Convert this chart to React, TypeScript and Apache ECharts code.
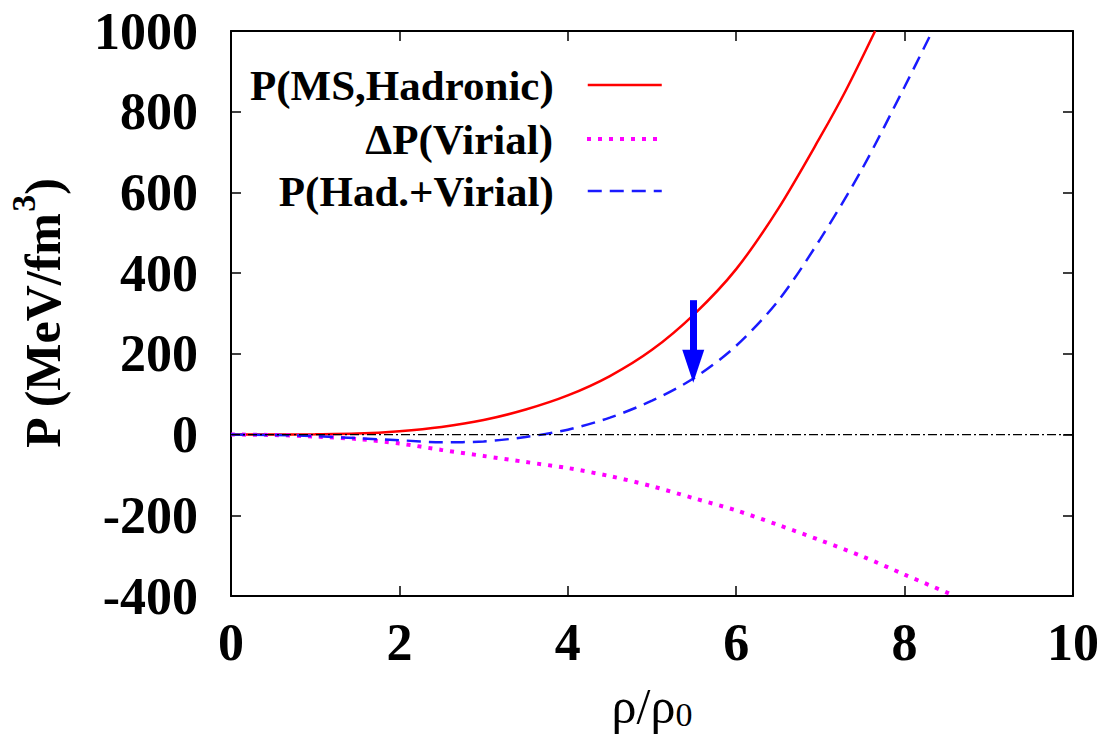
import { useEffect, useRef } from 'react';
import * as echarts from 'echarts';

// ---- data ----
const rhoHad = [0, 0.5, 1.0, 1.5, 2.0, 2.5, 3.0, 3.5, 4.0, 4.5, 5.0, 5.5, 6.0, 6.5, 7.0, 7.3, 7.65];
const pHad = [0, 0.2, 0.8, 2.5, 8.5, 19, 36, 62, 97, 145, 210, 298, 410, 560, 738, 852, 1000];

const rhoVir = [0, 0.5, 1.0, 1.5, 2.0, 2.5, 3.0, 3.5, 4.0, 4.5, 5.0, 5.5, 6.0, 6.5, 7.0, 7.5, 8.0, 8.6];
const dPVir = [0, -1, -5, -11, -22, -38, -53, -68, -83, -103, -128, -158, -188, -224, -262, -302, -347, -400];

const rhoTot = [0, 0.5, 1.0, 1.5, 2.0, 2.5, 3.0, 3.5, 4.0, 4.5, 5.0, 5.5, 6.0, 6.5, 7.0, 7.5, 8.0, 8.33];
const pTot = [0, -1, -4, -9, -14, -19, -17, -6, 12, 42, 84, 140, 220, 332, 485, 660, 862, 1000];

const zeroX = [0, 10];
const zeroY = [0, 0];

const arrowX = [5.49, 5.49];
const arrowY = [333, 169];

const seriesNames = ['P(MS,Hadronic)', 'ΔP(Virial)', 'P(Had.+Virial)'];
const seriesWidths = [2.5, 4, 2.5];

const FONT = 'Liberation Serif, Times New Roman, Times, serif';

const zip = (xs: number[], ys: number[]) => xs.map((x, i) => [x, ys[i]]);

const frameLine = { show: true, onZero: false, lineStyle: { color: '#000', width: 2 } };
const tick = { show: true, inside: true, length: 10, lineStyle: { color: '#000', width: 1.5 } };

const legendRowsY = [85, 139, 191];

export default function App() {
  const ref = useRef<HTMLDivElement>(null);
  useEffect(() => {
    const chart = echarts.init(ref.current!, null, { renderer: 'svg' });
    const legends = seriesNames.map((n, i) => ({
      data: [n],
      orient: 'horizontal',
      align: 'right',
      right: 446,
      top: legendRowsY[i] - 22,
      padding: 0,
      itemWidth: 74,
      itemHeight: 14,
      selectedMode: false,
      itemStyle: { opacity: 0 },
      lineStyle: { width: seriesWidths[i] },
      textStyle: {
        fontFamily: FONT,
        fontWeight: 'bold',
        fontSize: 43,
        lineHeight: 44,
        color: '#000',
        padding: [0, 29, 0, 0],
      },
    }));
    const label = (v: number) => String(v);
    chart.setOption({
      animation: false,
      backgroundColor: '#fff',
      grid: { left: 231, right: 36, top: 31, bottom: 144, containLabel: false, outerBoundsMode: 'none' },
      legend: legends,
      xAxis: [
        {
          type: 'value', min: 0, max: 10, interval: 2, position: 'bottom',
          axisLine: frameLine, axisTick: tick, splitLine: { show: false },
          axisLabel: { fontFamily: FONT, fontWeight: 'bold', fontSize: 52, color: '#000', margin: 20, formatter: label },
          name: '{a|ρ/ρ}{sub|0}', nameLocation: 'middle', nameGap: 65,
          nameTextStyle: {
            rich: {
              a: { fontFamily: FONT, fontSize: 50, color: '#000', lineHeight: 70, verticalAlign: 'bottom' },
              sub: { fontFamily: FONT, fontSize: 34, color: '#000', lineHeight: 34, verticalAlign: 'bottom' },
            },
          },
        },
        {
          type: 'value', min: 0, max: 10, interval: 2, position: 'top',
          axisLine: frameLine, axisTick: tick, splitLine: { show: false }, axisLabel: { show: false },
        },
      ],
      yAxis: [
        {
          type: 'value', min: -400, max: 1000, interval: 200, position: 'left',
          axisLine: frameLine, axisTick: tick, splitLine: { show: false },
          axisLabel: { fontFamily: FONT, fontWeight: 'bold', fontSize: 52, color: '#000', margin: 33, formatter: label },
          name: '{a|P (MeV/fm}{sup|3}{a|)}', nameLocation: 'middle', nameGap: 145, nameRotate: 90,
          nameTextStyle: {
            rich: {
              a: { fontFamily: FONT, fontWeight: 'bold', fontSize: 50, color: '#000', lineHeight: 80, verticalAlign: 'top', padding: [12, 0, 0, 0] },
              sup: { fontFamily: FONT, fontWeight: 'bold', fontSize: 34, color: '#000', lineHeight: 34, verticalAlign: 'top' },
            },
          },
        },
        {
          type: 'value', min: -400, max: 1000, interval: 200, position: 'right',
          axisLine: frameLine, axisTick: tick, splitLine: { show: false }, axisLabel: { show: false },
        },
      ],
      series: [
        {
          name: seriesNames[0], type: 'line', data: zip(rhoHad, pHad),
          symbol: 'none', smooth: 0.3, clip: true, color: '#ff0000',
          lineStyle: { color: '#ff0000', width: seriesWidths[0] },
        },
        {
          name: seriesNames[1], type: 'line', data: zip(rhoVir, dPVir),
          symbol: 'none', smooth: 0.3, clip: true, color: '#ff00ff',
          lineStyle: { color: '#ff00ff', width: seriesWidths[1], type: [4, 7] },
        },
        {
          name: seriesNames[2], type: 'line', data: zip(rhoTot, pTot),
          symbol: 'none', smooth: 0.3, clip: true, color: '#1a1aff',
          lineStyle: { color: '#1a1aff', width: seriesWidths[2], type: [14, 8] },
        },
        {
          name: 'zero', type: 'line', data: zip(zeroX, zeroY),
          symbol: 'none', silent: true, color: '#000',
          lineStyle: { color: '#000', width: 1.3, type: [9, 3, 2, 3] },
          markLine: {
            silent: true,
            symbol: ['none', 'triangle'],
            symbolSize: [22, 33],
            label: { show: false },
            emphasis: { disabled: true },
            lineStyle: { color: '#0000ff', width: 7, type: 'solid' },
            data: [[{ coord: [arrowX[0], arrowY[0]] }, { coord: [arrowX[1], arrowY[1]] }]],
          },
        },
      ],
    });
    return () => chart.dispose();
  }, []);
  return <div ref={ref} style={{ position: 'fixed', left: 0, top: 0, width: 1109, height: 740 }} />;
}
